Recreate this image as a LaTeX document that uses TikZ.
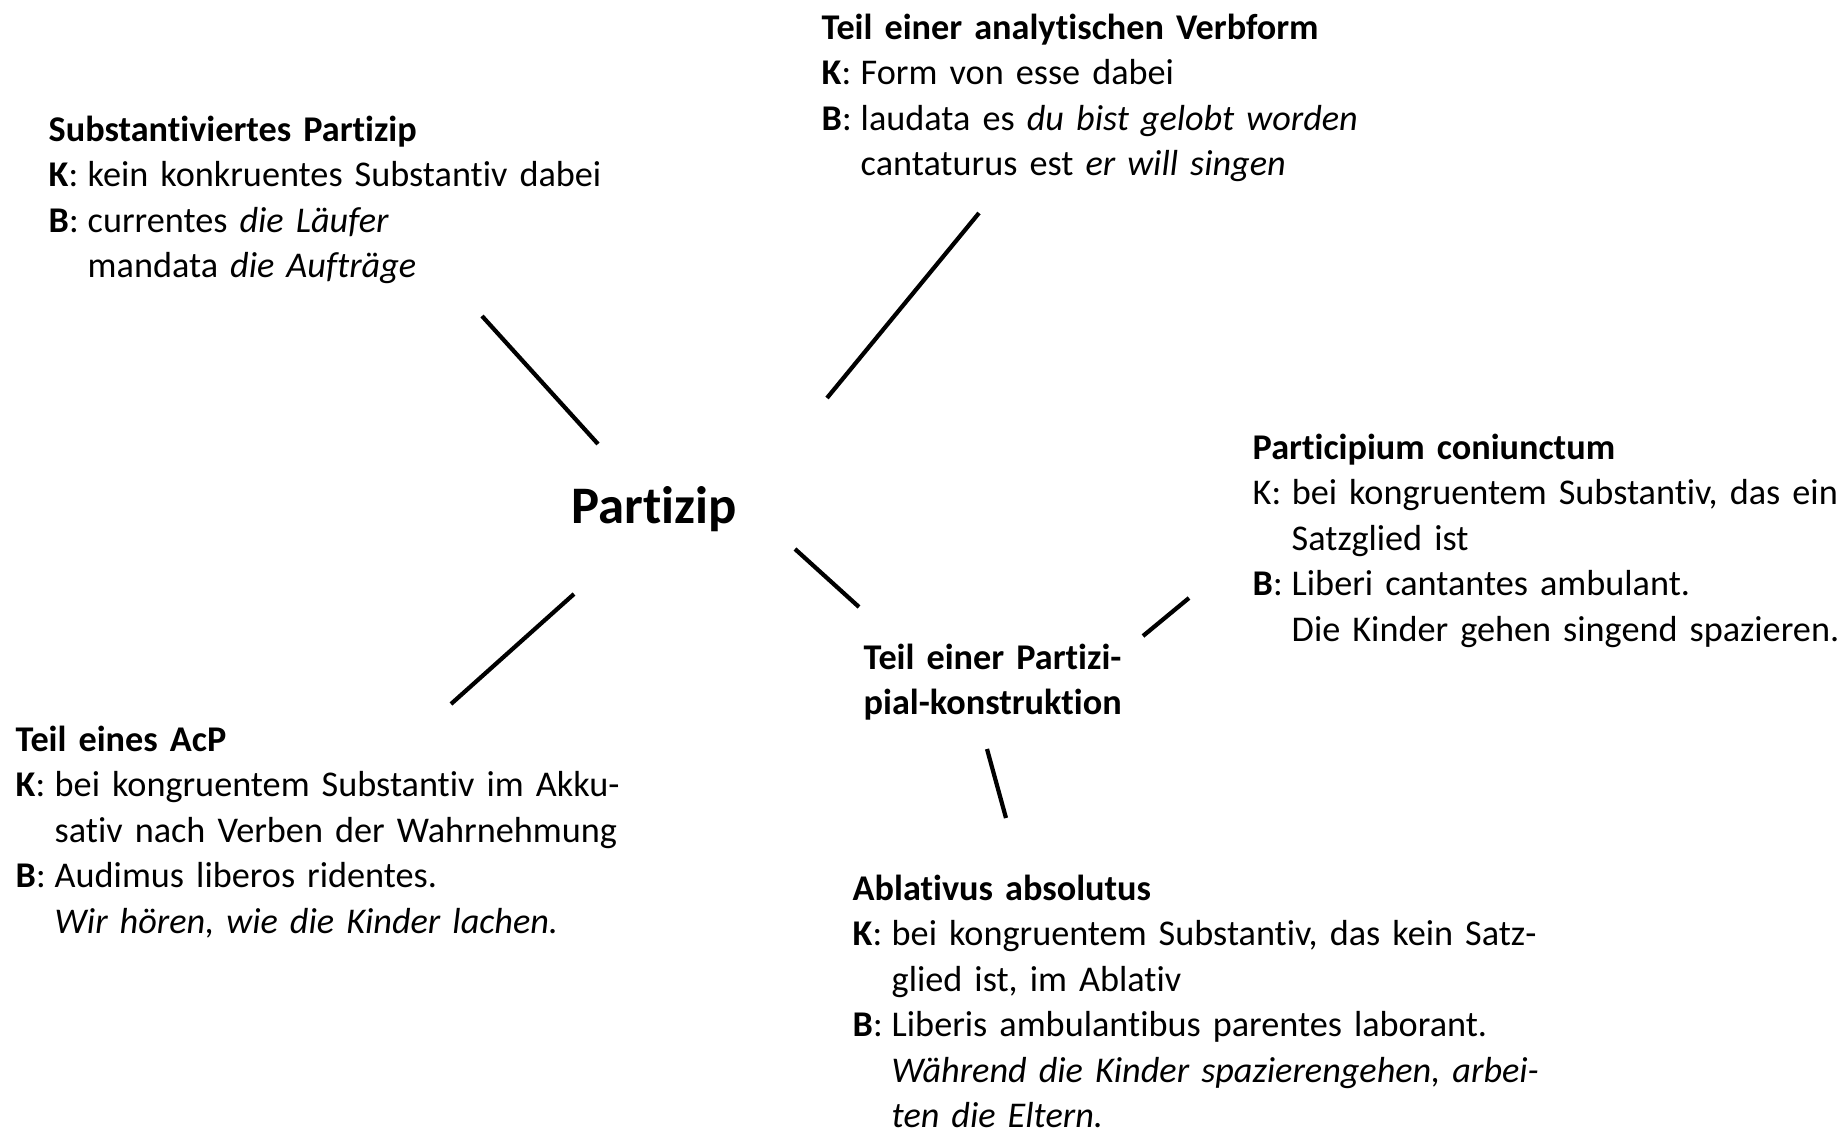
\documentclass[tikz,border=0pt]{standalone}
\usepackage{fontspec}
\setmainfont[Ligatures=NoCommon]{Carlito}
\usetikzlibrary{positioning}
\newlength{\hangw}
\setlength{\hangw}{0.39cm}
\newcommand{\lead}[1]{\makebox[\hangw][l]{#1}}
\newcommand{\cont}{\hspace*{\hangw}}

\begin{document}
\begin{tikzpicture}[
  x=0.01cm, y=-0.01cm,
  entry/.style={anchor=base west, inner sep=0pt, align=left, text width=7cm,
                font=\fontsize{10.3}{12.95}\selectfont},
  hub/.style={anchor=base west, inner sep=0pt, font=\fontsize{15}{18}\selectfont\bfseries},
  spoke/.style={line width=1.2pt},
]
  \useasboundingbox (0,0) rectangle (1847,1133);

  % centre
  \node[hub] (partizip) at (571,523) {Partizip};

  % the six uses
  \node[entry] (subst) at (48,141) {\textbf{Substantiviertes Partizip}\\
    \lead{\textbf{K}:}kein konkruentes Substantiv dabei\\
    \lead{\textbf{B}:}currentes \textit{die Läufer}\\
    \cont mandata \textit{die Aufträge}};
  \node[entry] (verb) at (821,39) {\textbf{Teil einer analytischen Verbform}\\
    \lead{\textbf{K}:}Form von esse dabei\\
    \lead{\textbf{B}:}laudata es \textit{du bist gelobt worden}\\
    \cont cantaturus est \textit{er will singen}};
  \node[entry] (pc) at (1252,459) {\textbf{Participium coniunctum}\\
    \lead{K:}bei kongruentem Substantiv, das ein\\
    \cont Satzglied ist\\
    \lead{\textbf{B}:}Liberi cantantes ambulant.\\
    \cont Die Kinder gehen singend spazieren.};
  \node[entry] (pk) at (863,669) {\textbf{Teil einer Partizi-}\\
    \textbf{pial-konstruktion}};
  \node[entry] (acp) at (15,751) {\textbf{Teil eines AcP}\\
    \lead{\textbf{K}:}bei kongruentem Substantiv im Akku-\\
    \cont sativ nach Verben der Wahrnehmung\\
    \lead{\textbf{B}:}Audimus liberos ridentes.\\
    \cont\textit{Wir hören, wie die Kinder lachen.}};
  \node[entry] (abl) at (852,900) {\textbf{Ablativus absolutus}\\
    \lead{\textbf{K}:}bei kongruentem Substantiv, das kein Satz-\\
    \cont glied ist, im Ablativ\\
    \lead{\textbf{B}:}Liberis ambulantibus parentes laborant.\\
    \cont\textit{Während die Kinder spazierengehen, arbei-}\\
    \cont\textit{ten die Eltern.}};

  % spokes
  \coordinate (subst-a) at (482,316);  \coordinate (subst-b) at (598,444);
  \coordinate (verb-a) at (827,398);   \coordinate (verb-b) at (979,213);
  \coordinate (acp-a) at (574,594);    \coordinate (acp-b) at (451,704);
  \coordinate (pk-a) at (795,549);     \coordinate (pk-b) at (859,607);
  \coordinate (pc-a) at (1143,636);    \coordinate (pc-b) at (1189,598);
  \coordinate (abl-a) at (987,749);    \coordinate (abl-b) at (1006,818);

  \draw[spoke] (subst-a) -- (subst-b);
  \draw[spoke] (verb-a) -- (verb-b);
  \draw[spoke] (acp-a) -- (acp-b);
  \draw[spoke] (pk-a) -- (pk-b);
  \draw[spoke] (pc-a) -- (pc-b);
  \draw[spoke] (abl-a) -- (abl-b);
\end{tikzpicture}
\end{document}
